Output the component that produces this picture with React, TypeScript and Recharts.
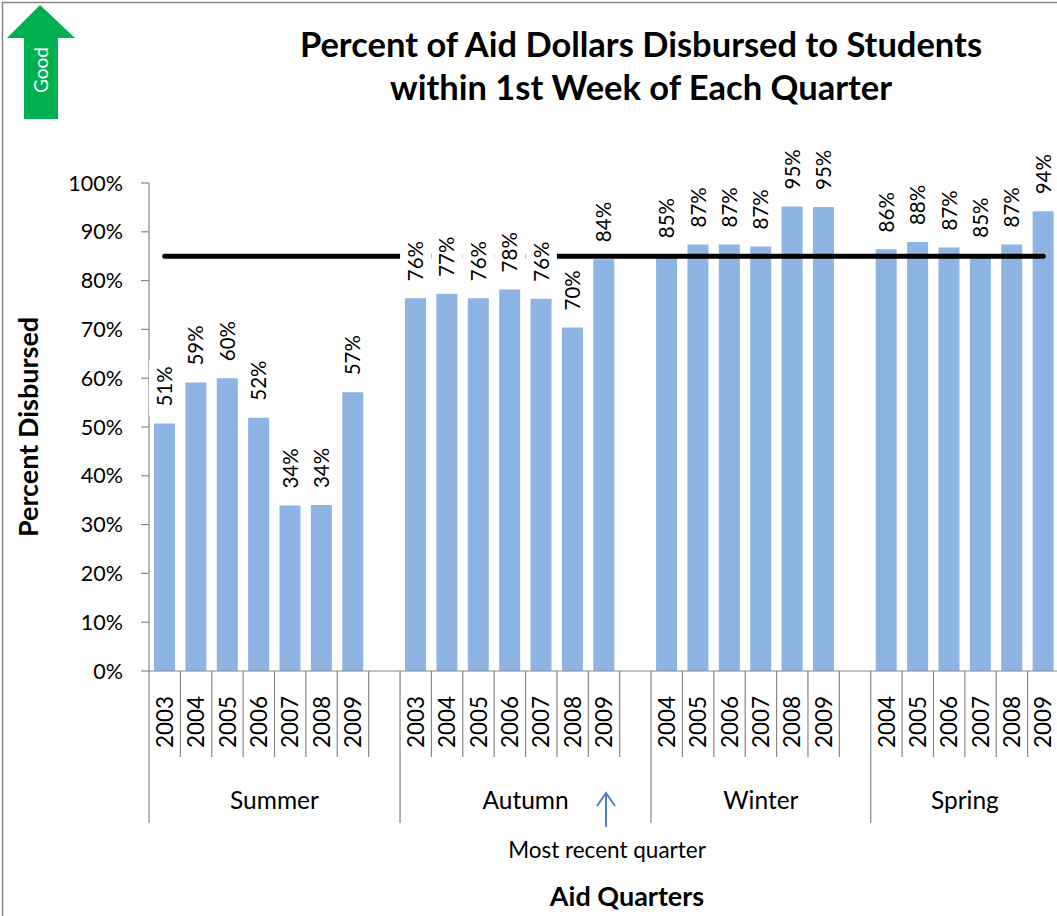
import React from 'react';
import { ComposedChart, Bar, Line, XAxis, YAxis, LabelList } from 'recharts';

// ---------- data ----------
const SEASONS = ['Summer', 'Autumn', 'Winter', 'Spring'];
const SUMMER_YEARS = ['2003', '2004', '2005', '2006', '2007', '2008', '2009'];
const SUMMER_VALUES = [50.7, 59.1, 60.0, 51.9, 33.9, 34.0, 57.1];
const AUTUMN_YEARS = ['2003', '2004', '2005', '2006', '2007', '2008', '2009'];
const AUTUMN_VALUES = [76.4, 77.3, 76.4, 78.2, 76.3, 70.4, 84.4];
const WINTER_YEARS = ['2004', '2005', '2006', '2007', '2008', '2009'];
const WINTER_VALUES = [85.2, 87.4, 87.4, 87.0, 95.2, 95.1];
const SPRING_YEARS = ['2004', '2005', '2006', '2007', '2008', '2009'];
const SPRING_VALUES = [86.4, 87.9, 86.8, 85.3, 87.4, 94.2];
const TARGET = 85;
const Y_TICKS = [0, 10, 20, 30, 40, 50, 60, 70, 80, 90, 100];
const MOST_RECENT = 'Autumn 2009';

const GROUPS = [
  { season: SEASONS[0], years: SUMMER_YEARS, values: SUMMER_VALUES },
  { season: SEASONS[1], years: AUTUMN_YEARS, values: AUTUMN_VALUES },
  { season: SEASONS[2], years: WINTER_YEARS, values: WINTER_VALUES },
  { season: SEASONS[3], years: SPRING_YEARS, values: SPRING_VALUES },
];

type Row = {
  key: string;
  year: string;
  season: string;
  pct: number | null;
  target: number;
  first: boolean;
  idx: number;
};

const rows: Row[] = [];
const groupInfo: { season: string; start: number; count: number }[] = [];
GROUPS.forEach((g, gi) => {
  const start = rows.length;
  g.years.forEach((yr, i) => {
    rows.push({ key: `${g.season} ${yr}`, year: yr, season: g.season, pct: g.values[i], target: TARGET, first: i === 0, idx: rows.length });
  });
  if (gi < GROUPS.length - 1) {
    rows.push({ key: `${g.season} gap`, year: '', season: g.season, pct: null, target: TARGET, first: false, idx: rows.length });
  }
  groupInfo.push({ season: g.season, start, count: rows.length - start });
});
const rowByKey: Record<string, Row> = {};
rows.forEach((r) => (rowByKey[r.key] = r));

// ---------- layout ----------
const FONT = 'Lato, "Open Sans", sans-serif';
const CHART_W = 1059;
const CHART_H = 916;
const MARGIN = { top: 183, right: 0, bottom: 0, left: 89 };
const Y_AXIS_W = 60;
const X_AXIS_H = CHART_H - 671;
const PLOT_W = CHART_W - MARGIN.left - MARGIN.right - Y_AXIS_W;
const BAND = PLOT_W / rows.length;
const AXIS_GRAY = '#868686';
const BAR_COLOR = '#8EB4E3';

const XTick = (props: any) => {
  const { x, y, payload } = props;
  const row = rowByKey[payload.value];
  if (!row) return null;
  const els: React.ReactNode[] = [];
  if (row.year) {
    els.push(
      <text key="yr" x={x} y={y + 51} transform={`rotate(-90, ${x}, ${y + 51})`} textAnchor="middle" dy="0.36em" fontSize={22.5} fontFamily={FONT} fill="#000">
        {row.year}
      </text>
    );
    els.push(<line key="sep" x1={x + BAND / 2} x2={x + BAND / 2} y1={y} y2={y + 86} stroke={AXIS_GRAY} strokeWidth={1.2} />);
  }
  if (row.first) {
    els.push(<line key="gsep" x1={x - BAND / 2} x2={x - BAND / 2} y1={y} y2={y + 152} stroke={AXIS_GRAY} strokeWidth={1.2} />);
  }
  const g = groupInfo.find((gg) => gg.season === row.season)!;
  const center = g.start + (g.count - 1) / 2;
  if (row.idx === Math.floor(center)) {
    const cx = x + (center - Math.floor(center)) * BAND;
    els.push(
      <text key="grp" x={cx} y={y + 129} textAnchor="middle" dy="0.36em" fontSize={24.5} fontFamily={FONT} fill="#000">
        {row.season}
      </text>
    );
  }
  if (row.key === MOST_RECENT) {
    els.push(
      <g key="recent">
        <line x1={x + 2} x2={x + 2} y1={y + 156} y2={y + 123} stroke="#4F81BD" strokeWidth={2} />
        <polyline points={`${x - 7},${y + 135} ${x + 2},${y + 122} ${x + 11},${y + 135}`} fill="none" stroke="#4F81BD" strokeWidth={2} />
        <text x={x + 3} y={y + 179} textAnchor="middle" dy="0.36em" fontSize={22.5} fontFamily={FONT} fill="#000">
          Most recent quarter
        </text>
      </g>
    );
  }
  return <g>{els}</g>;
};

const ValueLabel = (props: any) => {
  const { x, y, value } = props;
  if (value === null || value === undefined || x == null || y == null) return null;
  const txt = `${Math.round(value)}%`;
  const ty = y - 17;
  const len = 37;
  return (
    <g>
      <rect x={x - BAND / 2} y={ty - len - 9} width={BAND} height={len + 18} fill="#fff" />
      <text x={x} y={ty} transform={`rotate(-90, ${x}, ${ty})`} textAnchor="start" dy="0.36em" fontSize={20.5} fontFamily={FONT} fill="#000">
        {txt}
      </text>
    </g>
  );
};

export default function App() {
  return (
    <div style={{ position: 'absolute', left: 0, top: 0, width: 1057, height: 916, overflow: 'hidden', background: '#fff' }}>
      <div style={{ position: 'absolute', left: 0, top: 0 }}>
        <ComposedChart width={CHART_W} height={CHART_H} data={rows} margin={MARGIN} barSize={21}>
          <XAxis
            dataKey="key"
            type="category"
            interval={0}
            height={X_AXIS_H}
            tickLine={false}
            tickSize={0}
            tickMargin={0}
            axisLine={{ stroke: AXIS_GRAY, strokeWidth: 1.2 }}
            tick={<XTick />}
          />
          <YAxis
            type="number"
            domain={[0, 100]}
            ticks={Y_TICKS}
            interval={0}
            width={Y_AXIS_W}
            tickFormatter={(v: number) => `${v}%`}
            axisLine={{ stroke: AXIS_GRAY, strokeWidth: 1.2 }}
            tickLine={{ stroke: AXIS_GRAY, strokeWidth: 1.2 }}
            tickSize={8}
            tickMargin={18}
            tick={{ fontSize: 21.5, fontFamily: FONT, fill: '#000' }}
          />
          <Bar dataKey="pct" fill={BAR_COLOR} isAnimationActive={false} />
          <Line dataKey="target" stroke="#000" strokeWidth={5} strokeLinecap="round" dot={false} activeDot={false} isAnimationActive={false} />
          <Line dataKey="pct" stroke="none" dot={false} activeDot={false} isAnimationActive={false} connectNulls={false}>
            <LabelList dataKey="pct" content={<ValueLabel />} />
          </Line>
        </ComposedChart>
      </div>
      <svg width={1057} height={916} style={{ position: 'absolute', left: 0, top: 0, pointerEvents: 'none' }}>
        <rect x={2.5} y={2.5} width={1200} height={1200} fill="none" stroke={AXIS_GRAY} strokeWidth={1.5} />
        <polygon points="40,5 75,38 58,38 58,119 24,119 24,38 7,38" fill="#00B050" />
        <text x={41} y={70} transform="rotate(-90, 41, 70)" textAnchor="middle" dy="0.36em" fontSize={19} fontFamily={FONT} fill="#fff">
          Good
        </text>
        <text x={641} y={45} textAnchor="middle" dy="0.36em" fontSize={34.5} fontWeight="bold" fontFamily={FONT} fill="#000">
          Percent of Aid Dollars Disbursed to Students
        </text>
        <text x={641} y={88} textAnchor="middle" dy="0.36em" fontSize={34.5} fontWeight="bold" fontFamily={FONT} fill="#000">
          within 1st Week of Each Quarter
        </text>
        <text x={28} y={427} transform="rotate(-90, 28, 427)" textAnchor="middle" dy="0.36em" fontSize={27} fontWeight="bold" fontFamily={FONT} fill="#000">
          Percent Disbursed
        </text>
        <text x={627} y={896} textAnchor="middle" dy="0.36em" fontSize={27} fontWeight="bold" fontFamily={FONT} fill="#000">
          Aid Quarters
        </text>
      </svg>
    </div>
  );
}
